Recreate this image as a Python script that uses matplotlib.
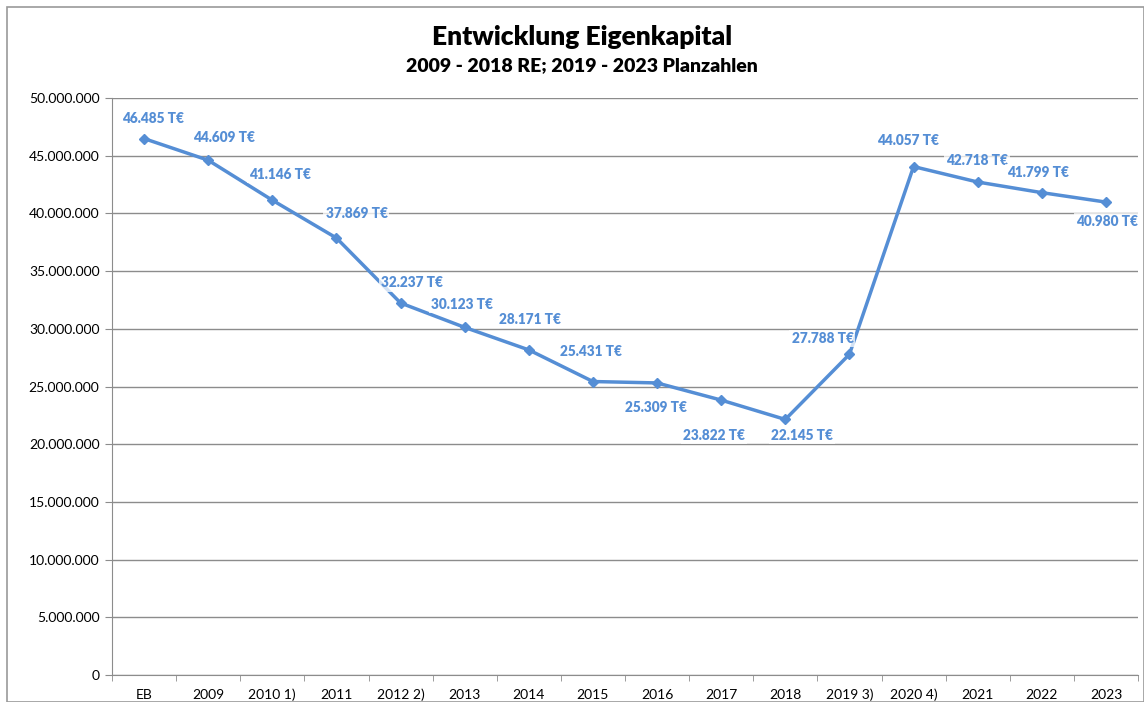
import matplotlib
matplotlib.use("Agg")
import matplotlib.pyplot as plt
from matplotlib.patches import Rectangle
from matplotlib.ticker import FuncFormatter, FixedLocator
import numpy as np

categories = ["EB", "2009", "2010 1)", "2011", "2012 2)", "2013", "2014", "2015",
              "2016", "2017", "2018", "2019 3)", "2020 4)", "2021", "2022", "2023"]
values_teur = [46485, 44609, 41146, 37869, 32237, 30123, 28171, 25431,
               25309, 23822, 22145, 27788, 44057, 42718, 41799, 40980]
values = [v * 1000 for v in values_teur]

# label offsets in pixels (dx, dy), dy positive = up
label_offsets = [(9, 20), (16, 23), (8, 26), (20, 24), (11, 20), (-3, 23), (1, 30), (-2, 30),
                 (-1, -25), (-7, -35), (17, -16), (-27, 16), (-6, 26), (-1, 22), (-4, 20), (1, -19)]

plt.rcParams['font.family'] = ['Lato', 'DejaVu Sans']
blue = "#558ED5"

fig = plt.figure(figsize=(11.44, 7.02), dpi=100)
fig.patches.append(Rectangle((7/1144, 0), 1 - 7/1144, 1 - 7/702, transform=fig.transFigure,
                             fill=False, edgecolor="#9a9a9a", linewidth=1.2))
ax = fig.add_axes([112/1144, 27/702, (1138-112)/1144, (675-98)/702])

x = np.arange(len(categories))
ax.plot(x, values, color=blue, linewidth=2.5, marker="D", markersize=5.5,
        markerfacecolor=blue, markeredgecolor=blue, zorder=3)

def fmt_de(v):
    return f"{int(round(v)):,}".replace(",", ".")

for xi, v, tv, (dx, dy) in zip(x, values, values_teur, label_offsets):
    ax.annotate(f"{fmt_de(tv)} T€", (xi, v), xytext=(dx * 0.72, dy * 0.72),
                textcoords="offset points", ha="center", va="center",
                fontsize=9.8, fontweight="heavy", color=blue, zorder=4,
                bbox=dict(boxstyle="square,pad=0.15", facecolor="white",
                          edgecolor="none", alpha=0.75))

ax.set_xlim(-0.5, len(categories) - 0.5)
ax.set_ylim(0, 50_000_000)
ax.set_yticks(np.arange(0, 50_000_001, 5_000_000))
ax.yaxis.set_major_formatter(FuncFormatter(lambda v, p: fmt_de(v)))
ax.grid(axis="y", color="#8c8c8c", linewidth=1.0)
ax.set_axisbelow(True)

ax.set_xticks(x)
ax.set_xticklabels(categories)
ax.xaxis.set_minor_locator(FixedLocator(np.arange(-0.5, len(categories), 1.0)))
ax.tick_params(axis="x", which="major", length=0, pad=10, labelsize=10, colors="black")
ax.tick_params(axis="x", which="minor", length=4, color="#8c8c8c", direction="out")
ax.tick_params(axis="y", length=5, color="#8c8c8c", labelsize=10, pad=4)

for s in ["top", "right"]:
    ax.spines[s].set_visible(False)
ax.spines["left"].set_color("#8c8c8c")
ax.spines["bottom"].set_color("#8c8c8c")

fig.text(582/1144, 1 - 37/702, "Entwicklung Eigenkapital", ha="center", va="center",
         fontsize=19, fontweight="heavy")
fig.text(582/1144, 1 - 66/702, "2009 - 2018 RE; 2019 - 2023 Planzahlen", ha="center",
         va="center", fontsize=14, fontweight="heavy")

fig.savefig("out.png", dpi=100)
